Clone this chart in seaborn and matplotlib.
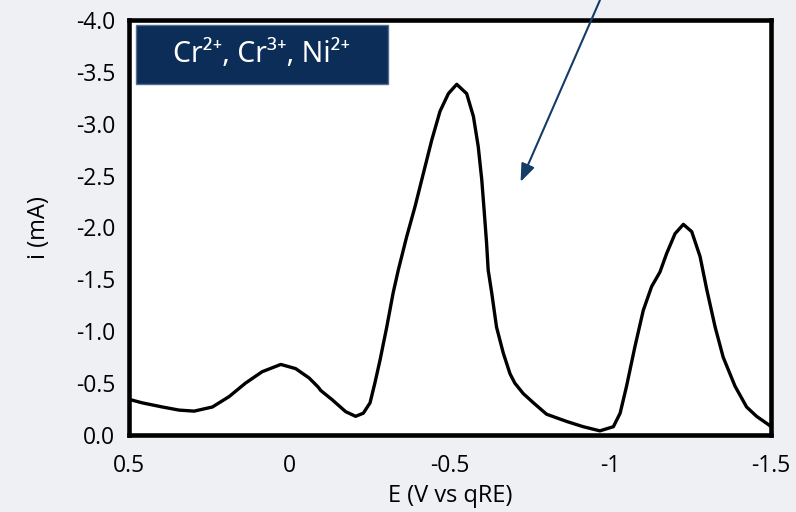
import matplotlib
matplotlib.use("Agg")
import matplotlib.pyplot as plt
import seaborn as sns
import pandas as pd
from matplotlib.patches import Rectangle

# Square-wave voltammogram: potential (V vs qRE) and current (mA)
potential = [0.500, 0.495, 0.459, 0.396, 0.344, 0.297, 0.240, 0.188, 0.137, 0.085,
             0.027, -0.019, -0.061, -0.090, -0.097, -0.133, -0.175, -0.206, -0.230,
             -0.251, -0.266, -0.282, -0.303, -0.323, -0.339, -0.365, -0.391, -0.417,
             -0.443, -0.469, -0.495, -0.521, -0.552, -0.573, -0.588, -0.599, -0.607,
             -0.614, -0.619, -0.630, -0.645, -0.666, -0.687, -0.702, -0.728, -0.760,
             -0.801, -0.864, -0.915, -0.967, -1.009, -1.030, -1.050, -1.076, -1.102,
             -1.128, -1.154, -1.175, -1.201, -1.227, -1.253, -1.279, -1.300, -1.326,
             -1.351, -1.388, -1.424, -1.455, -1.492, -1.500]
current = [-0.34, -0.34, -0.31, -0.27, -0.24, -0.23, -0.27, -0.37, -0.50, -0.61,
           -0.68, -0.64, -0.55, -0.46, -0.43, -0.34, -0.225, -0.18, -0.21,
           -0.31, -0.50, -0.72, -1.04, -1.37, -1.59, -1.91, -2.20, -2.52,
           -2.84, -3.12, -3.29, -3.38, -3.29, -3.07, -2.78, -2.46, -2.14,
           -1.85, -1.59, -1.37, -1.04, -0.79, -0.59, -0.50, -0.40, -0.31,
           -0.20, -0.13, -0.08, -0.04, -0.08, -0.21, -0.47, -0.85, -1.20,
           -1.43, -1.57, -1.75, -1.94, -2.03, -1.96, -1.72, -1.40, -1.04,
           -0.75, -0.47, -0.27, -0.18, -0.10, -0.08]

x_ticks = [0.5, 0, -0.5, -1, -1.5]
x_ticklabels = ["0.5", "0", "-0.5", "-1", "-1.5"]
y_ticks = [0.0, -0.5, -1.0, -1.5, -2.0, -2.5, -3.0, -3.5, -4.0]
y_ticklabels = ["0.0", "-0.5", "-1.0", "-1.5", "-2.0", "-2.5", "-3.0", "-3.5", "-4.0"]
species_label = "Cr²⁺, Cr³⁺, Ni²⁺"

sns.set_theme(style="white")
plt.rcParams["font.family"] = ["Open Sans", "DejaVu Sans"]

df = pd.DataFrame({"E": potential, "i": current})

fig = plt.figure(figsize=(7.96, 5.12), dpi=100, facecolor="#eff0f3")
ax = fig.add_axes([0.162, 0.1504, 0.8066, 0.8106])
ax.set_facecolor("white")

sns.lineplot(data=df, x="E", y="i", ax=ax, color="black", linewidth=2.4,
             sort=False, estimator=None)
ax.lines[0].set_solid_joinstyle("round")
ax.lines[0].set_solid_capstyle("round")

ax.set_xlim(0.5, -1.5)
ax.set_ylim(0.0, -4.0)
ax.set_xticks(x_ticks)
ax.set_xticklabels(x_ticklabels)
ax.set_yticks(y_ticks)
ax.set_yticklabels(y_ticklabels)
ax.tick_params(axis="both", direction="out", length=5, width=1, color="#555555",
               labelsize=16.5, labelcolor="black")
ax.tick_params(axis="x", pad=9)
ax.tick_params(axis="y", pad=5)

for side in ["left", "right", "top", "bottom"]:
    ax.spines[side].set_visible(True)
    ax.spines[side].set_color("black")
    ax.spines[side].set_linewidth(3.3)

ax.set_xlabel("E (V vs qRE)", fontsize=17, color="black", labelpad=4)
ax.set_ylabel("i (mA)", fontsize=17, color="black", labelpad=18)

# Species label box
ax.add_patch(Rectangle((0.011, 0.846), 0.392, 0.142, transform=ax.transAxes,
                       facecolor="#0c2d57", edgecolor="#4f6d8c", linewidth=1.0,
                       zorder=5))
ax.text(0.207, 0.917, species_label, transform=ax.transAxes, ha="center",
        va="center", color="white", fontsize=20.5, zorder=6,
        family=["Noto Sans", "DejaVu Sans"])

# Pointer arrow entering from above the frame
ax.annotate("", xy=(-0.72, -2.44), xytext=(-0.967, -4.19),
            arrowprops=dict(arrowstyle="-|>,head_length=0.9,head_width=0.35",
                            color="#143c68", lw=1.5, shrinkA=0, shrinkB=0),
            annotation_clip=False, zorder=7)

fig.savefig("out.png", dpi=100, facecolor=fig.get_facecolor())
